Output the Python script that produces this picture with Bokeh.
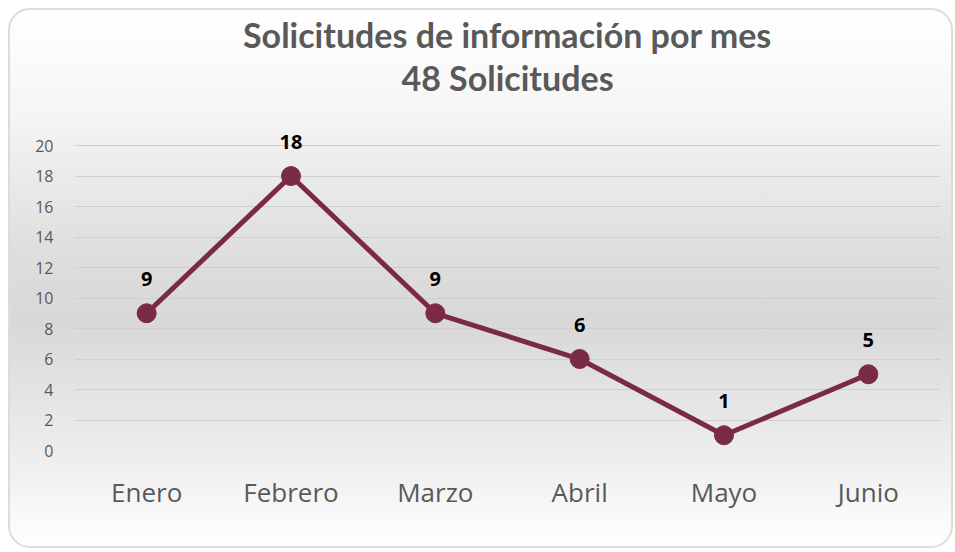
from bokeh.plotting import figure
from bokeh.models import ColumnDataSource, LabelSet, FixedTicker, Range1d, Title
from bokeh.embed import file_html
from bokeh.resources import INLINE
from bokeh.core.properties import value

months = ["Enero", "Febrero", "Marzo", "Abril", "Mayo", "Junio"]
counts = [9, 18, 9, 6, 1, 5]
y_ticks = [0, 2, 4, 6, 8, 10, 12, 14, 16, 18, 20]
title_main = "Solicitudes de información por mes"
title_sub = "48 Solicitudes"

LINE = "#7A2A47"
GRAY = "#595959"

src = ColumnDataSource(dict(m=months, c=counts, t=[str(v) for v in counts]))

p = figure(x_range=months, y_range=Range1d(0, 23.15), width=945, height=540,
           output_backend="svg", toolbar_location=None, title=None,
           min_border_left=64, min_border_right=15, min_border_bottom=100, min_border_top=87)

for txt in (title_sub, title_main):
    p.add_layout(Title(text=txt, align="center", text_font="Lato",
                       text_font_size="34px", text_font_style="bold", text_color=GRAY,
                       text_line_height=1.0, offset=0, standoff=0), "above")

p.background_fill_alpha = 0
p.border_fill_alpha = 0
p.outline_line_color = None
p.styles = {
    "margin-left": "8px",
    "margin-top": "8px",
    "background": "linear-gradient(to bottom, #ffffff 0%, #f6f6f6 18%, #dedede 45%, #d8d8d8 58%, #efefef 85%, #ffffff 100%)",
    "border": "2px solid #dcdcdc",
    "border-radius": "22px",
    "box-sizing": "border-box",
}

p.xgrid.grid_line_color = None
p.ygrid.grid_line_color = "#cfcfcf"
p.ygrid.grid_line_width = 1
p.yaxis.ticker = FixedTicker(ticks=y_ticks)

for ax in (p.xaxis, p.yaxis):
    ax.axis_line_color = None
    ax.major_tick_line_color = None
    ax.minor_tick_line_color = None
    ax.major_label_text_color = GRAY
    ax.major_label_text_font = "Open Sans"

p.yaxis.major_label_text_font_size = "16px"
p.yaxis.major_label_standoff = 15
p.xaxis.major_label_text_font_size = "26px"
p.xaxis.major_label_standoff = 17
p.x_range.range_padding = 0

p.line("m", "c", source=src, line_color=LINE, line_width=5)
p.scatter("m", "c", source=src, size=19, fill_color=LINE, line_color=LINE)

labels = LabelSet(x="m", y="c", text="t", source=src, y_offset=34,
                  text_align="center", text_baseline="middle",
                  text_font=value("Open Sans"), text_font_style="bold",
                  text_font_size="20px", text_color="#000000")
p.add_layout(labels)

open("out.html", "w").write(file_html(p, INLINE))
